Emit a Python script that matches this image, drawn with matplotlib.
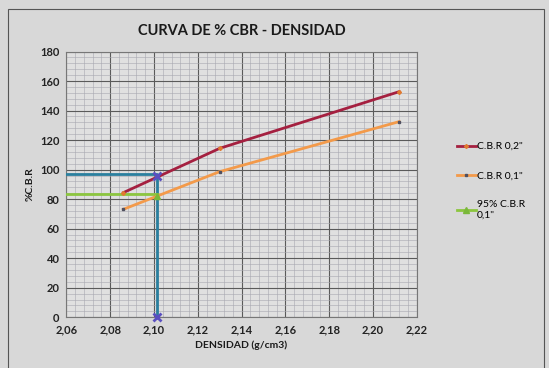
import matplotlib
matplotlib.use("Agg")
import matplotlib.pyplot as plt
from matplotlib.ticker import MultipleLocator, FuncFormatter
from matplotlib.patches import Rectangle

plt.rcParams['font.family'] = ['Lato', 'DejaVu Sans']

# CBR test results versus dry density
dens = [2.086, 2.130, 2.212]
cbr_02 = [84.4, 114.4, 152.8]
cbr_01 = [73.1, 98.6, 132.5]

# 95% density reading
dens_95 = [2.06, 2.1015]
cbr_95 = [83.5, 83.5]

# projection of the design density onto the 0,2" curve
proj_x = [2.06, 2.1015, 2.1015]
proj_y = [97.0, 97.0, 0.0]
mark_x = [2.1015, 2.1015]
mark_y = [96.0, 0.0]

x_ticks = [2.06, 2.08, 2.10, 2.12, 2.14, 2.16, 2.18, 2.20, 2.22]
y_ticks = [0, 20, 40, 60, 80, 100, 120, 140, 160, 180]

fig = plt.figure(figsize=(5.49, 3.68), dpi=100, facecolor='#d8d8d8')
ax = fig.add_axes([0.121, 0.138, 0.638, 0.722])
ax.set_facecolor('#e0e0e0')

# outer chart frame
fig.patches.append(Rectangle((0.015, -0.05), 0.975, 1.025, transform=fig.transFigure,
                             fill=False, edgecolor='#555555', linewidth=0.8))

ax.plot(proj_x, proj_y, color='#2a7f9e', linewidth=2.0, zorder=3)
ax.plot(mark_x, mark_y, linestyle='none', marker='x', markersize=6, markeredgewidth=2,
        color='#5a4fc0', zorder=5, clip_on=False)

ax.plot(dens_95, cbr_95, color='#8cc63f', linewidth=2.0, zorder=3)
ax.plot([dens_95[-1]], [82.0], linestyle='none', marker='^', markersize=5,
        color='#7ab83a', zorder=5)

l1, = ax.plot(dens, cbr_02, color='#a52040', linewidth=2.0, marker='D', markersize=2,
              markerfacecolor='#e07a30', markeredgecolor='#e07a30', zorder=4,
              label='C.B.R 0,2"')
l2, = ax.plot(dens, cbr_01, color='#f39a4a', linewidth=2.0, marker='s', markersize=2,
              markerfacecolor='#505060', markeredgecolor='#505060', zorder=4,
              label='C.B.R 0,1"')
l3, = ax.plot([], [], color='#8cc63f', linewidth=2.0, marker='^', markersize=5,
              markerfacecolor='#7ab83a', markeredgecolor='#7ab83a',
              label='95% C.B.R\n0,1"')

ax.set_xlim(2.06, 2.22)
ax.set_ylim(0, 180)
ax.set_xticks(x_ticks)
ax.set_yticks(y_ticks)
ax.xaxis.set_minor_locator(MultipleLocator(0.004))
ax.yaxis.set_minor_locator(MultipleLocator(4))
ax.xaxis.set_major_formatter(FuncFormatter(lambda v, p: f"{v:.2f}".replace('.', ',')))
ax.grid(which='major', color='#5a5a5a', linewidth=0.8)
ax.grid(which='minor', color='#a8a8b0', linewidth=0.4)
ax.set_axisbelow(True)
ax.tick_params(which='both', length=0, labelsize=8, colors='#222222', pad=5)
for lbl in ax.get_xticklabels() + ax.get_yticklabels():
    lbl.set_fontweight('bold')
for s in ax.spines.values():
    s.set_color('#777777')
    s.set_linewidth(0.8)

ax.set_title('CURVA DE % CBR - DENSIDAD', fontsize=10.5, fontweight='bold', pad=12,
             color='#1a1a1a')
ax.set_xlabel('DENSIDAD (g/cm3)', fontsize=7.5, fontweight='bold', labelpad=4,
              color='#1a1a1a')
ax.set_ylabel('%C.B.R', fontsize=7.5, fontweight='bold', labelpad=4, color='#1a1a1a')

fig.legend(handles=[l1, l2, l3], loc='upper left', bbox_to_anchor=(0.815, 0.64),
           frameon=False, fontsize=7.5, handlelength=1.8, handletextpad=0.1,
           labelspacing=1.9)

fig.savefig('out.png', dpi=100, facecolor=fig.get_facecolor())
